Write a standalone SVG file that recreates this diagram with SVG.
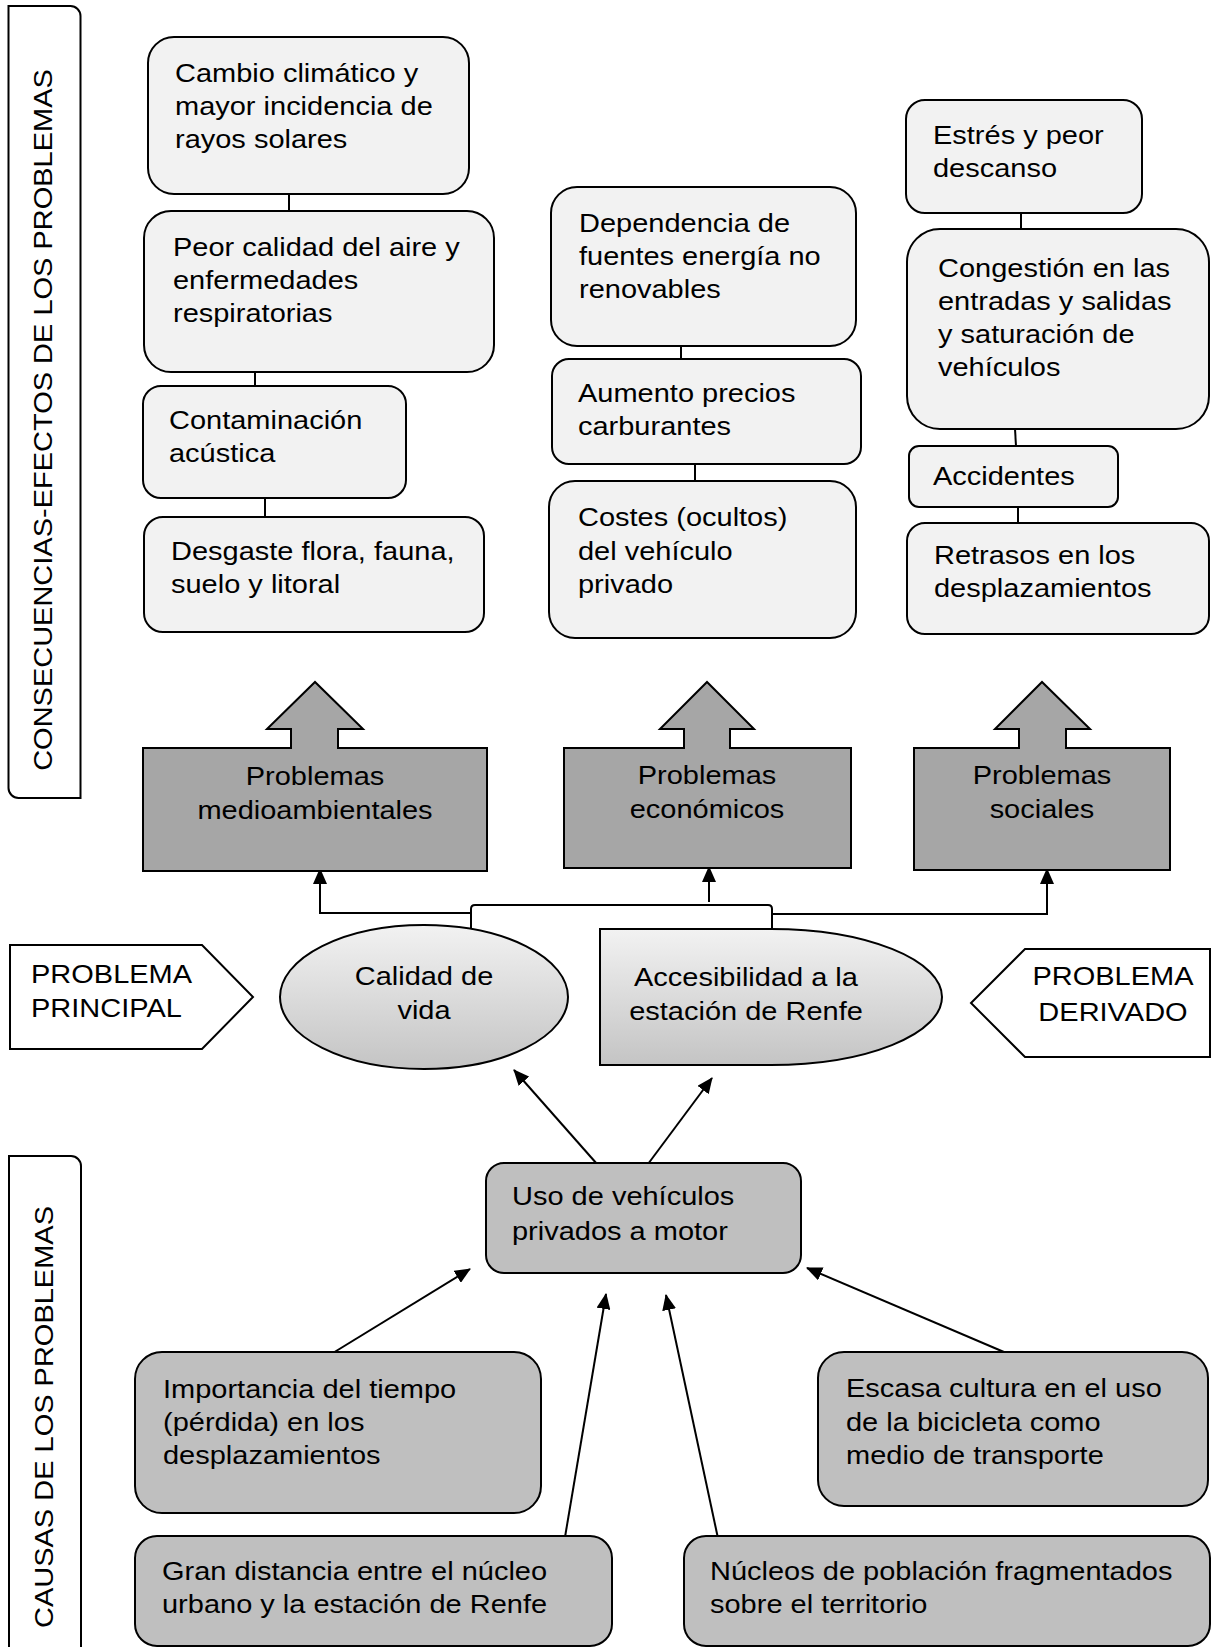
<svg xmlns="http://www.w3.org/2000/svg" width="1211" height="1647" viewBox="0 0 1211 1647">
<defs>
<style>
text{font-family:"Liberation Sans",Arial,sans-serif;font-size:26.7px;fill:#000;transform:scaleX(1.086);transform-box:fill-box;transform-origin:0 0}
.c{text-anchor:middle;transform-origin:50% 0}
.lt{fill:#f2f2f2;stroke:#000;stroke-width:2}
.dk{fill:#a6a6a6;stroke:#000;stroke-width:2}
.md{fill:#bfbfbf;stroke:#000;stroke-width:2}
.wh{fill:#fff;stroke:#000;stroke-width:2}
.gr{fill:url(#g);stroke:#000;stroke-width:2}
.ln{fill:none;stroke:#000;stroke-width:2}
.ar{fill:none;stroke:#000;stroke-width:2;marker-end:url(#ah)}
</style>
<linearGradient id="g" x1="0" y1="0" x2="0" y2="1">
<stop offset="0" stop-color="#f2f2f2"/>
<stop offset="1" stop-color="#c4c4c4"/>
</linearGradient>
<marker id="ah" viewBox="0 0 16 14" refX="15" refY="7" markerWidth="16" markerHeight="14" markerUnits="userSpaceOnUse" orient="auto">
<path d="M0,0 L16,7 L0,14 z" fill="#000"/>
</marker>
</defs>

<g id="label-consecuencias">
<path class="wh" d="M8.5,6 H70.5 A10,10 0 0 1 80.5,16 V798 H18.5 A10,10 0 0 1 8.5,788 Z"/>
<g transform="translate(52,420) rotate(-90)"><text class="c" x="0" y="0">CONSECUENCIAS-EFECTOS DE LOS PROBLEMAS</text></g>
</g>
<g id="label-causas">
<path class="wh" d="M9,1156 H71 A10,10 0 0 1 81,1166 V1660 H9 Z"/>
<g transform="translate(53,1417) rotate(-90)"><text class="c" x="0" y="0">CAUSAS DE LOS PROBLEMAS</text></g>
</g>

<g id="connectors">
<line class="ln" x1="289" y1="194" x2="289" y2="211"/>
<line class="ln" x1="255" y1="372" x2="255" y2="386"/>
<line class="ln" x1="265" y1="498" x2="265" y2="517"/>
<line class="ln" x1="681" y1="346" x2="681" y2="359"/>
<line class="ln" x1="695" y1="464" x2="695" y2="481"/>
<line class="ln" x1="1021" y1="213" x2="1021" y2="229"/>
<line class="ln" x1="1015" y1="429" x2="1016" y2="446"/>
<line class="ln" x1="1018" y1="507" x2="1018" y2="523"/>
<path class="ln" d="M471,933 V909 Q471,905 475,905 H768 Q772,905 772,909 V933"/>
<path class="ar" d="M471,913 H320 V869"/>
<path class="ar" d="M709,902 V867"/>
<path class="ar" d="M772,914 H1047 V869"/>
<line class="ar" x1="597" y1="1164" x2="514" y2="1070"/>
<line class="ar" x1="648" y1="1164" x2="712" y2="1078"/>
<line class="ar" x1="328" y1="1356" x2="470" y2="1269"/>
<line class="ar" x1="564" y1="1543" x2="606" y2="1294"/>
<line class="ar" x1="719" y1="1543" x2="666" y2="1295"/>
<line class="ar" x1="1011" y1="1355" x2="807" y2="1268"/>
</g>

<g id="n-cambio">
<rect class="lt" x="148" y="37" width="321" height="157" rx="26"/>
<text x="175" y="82">Cambio climático y</text>
<text x="175" y="115">mayor incidencia de</text>
<text x="175" y="148">rayos solares</text>
</g>
<g id="n-peor">
<rect class="lt" x="144" y="211" width="350" height="161" rx="27"/>
<text x="173" y="256">Peor calidad del aire y</text>
<text x="173" y="289">enfermedades</text>
<text x="173" y="322">respiratorias</text>
</g>
<g id="n-contaminacion">
<rect class="lt" x="143" y="386" width="263" height="112" rx="18"/>
<text x="169" y="429">Contaminación</text>
<text x="169" y="462">acústica</text>
</g>
<g id="n-desgaste">
<rect class="lt" x="144" y="517" width="340" height="115" rx="19"/>
<text x="171" y="560">Desgaste flora, fauna,</text>
<text x="171" y="593">suelo y litoral</text>
</g>

<g id="n-dependencia">
<rect class="lt" x="551" y="187" width="305" height="159" rx="26"/>
<text x="579" y="232">Dependencia de</text>
<text x="579" y="265">fuentes energía no</text>
<text x="579" y="298">renovables</text>
</g>
<g id="n-aumento">
<rect class="lt" x="552" y="359" width="309" height="105" rx="17"/>
<text x="578" y="402">Aumento precios</text>
<text x="578" y="435">carburantes</text>
</g>
<g id="n-costes">
<rect class="lt" x="549" y="481" width="307" height="157" rx="26"/>
<text x="578" y="526">Costes (ocultos)</text>
<text x="578" y="560">del vehículo</text>
<text x="578" y="593">privado</text>
</g>

<g id="n-estres">
<rect class="lt" x="906" y="100" width="236" height="113" rx="19"/>
<text x="933" y="144">Estrés y peor</text>
<text x="933" y="177">descanso</text>
</g>
<g id="n-congestion">
<rect class="lt" x="907" y="229" width="302" height="200" rx="33"/>
<text x="938" y="277">Congestión en las</text>
<text x="938" y="310">entradas y salidas</text>
<text x="938" y="343">y saturación de</text>
<text x="938" y="376">vehículos</text>
</g>
<g id="n-accidentes">
<rect class="lt" x="909" y="446" width="209" height="61" rx="10"/>
<text x="933" y="485">Accidentes</text>
</g>
<g id="n-retrasos">
<rect class="lt" x="907" y="523" width="302" height="111" rx="18"/>
<text x="934" y="564">Retrasos en los</text>
<text x="934" y="597">desplazamientos</text>
</g>

<g id="n-medioambientales">
<path class="dk" d="M143,748 H291 V729 H267 L315,682 L363,729 H338 V748 H487 V871 H143 Z"/>
<text class="c" x="315" y="785">Problemas</text>
<text class="c" x="315" y="819">medioambientales</text>
</g>
<g id="n-economicos">
<path class="dk" d="M564,748 H684 V729 H660 L707,682 L754,729 H730 V748 H851 V868 H564 Z"/>
<text class="c" x="707" y="784">Problemas</text>
<text class="c" x="707" y="818">económicos</text>
</g>
<g id="n-sociales">
<path class="dk" d="M914,748 H1019 V729 H995 L1042,682 L1090,729 H1066 V748 H1170 V870 H914 Z"/>
<text class="c" x="1042" y="784">Problemas</text>
<text class="c" x="1042" y="818">sociales</text>
</g>

<g id="n-principal">
<path class="wh" d="M10,945 H202 L253,997 L202,1049 H10 Z"/>
<text x="31" y="983">PROBLEMA</text>
<text x="31" y="1017">PRINCIPAL</text>
</g>
<g id="n-calidad">
<ellipse class="gr" cx="424" cy="997" rx="144" ry="72"/>
<text class="c" x="424" y="985">Calidad de</text>
<text class="c" x="424" y="1019">vida</text>
</g>
<g id="n-accesibilidad">
<path class="gr" d="M600,929 H771 A171,68 0 0 1 771,1065 H600 Z"/>
<text class="c" x="746" y="986">Accesibilidad a la</text>
<text class="c" x="746" y="1020">estación de Renfe</text>
</g>
<g id="n-derivado">
<path class="wh" d="M1210,949 H1025 L971,1003 L1025,1057 H1210 Z"/>
<text class="c" x="1113" y="985">PROBLEMA</text>
<text class="c" x="1113" y="1021">DERIVADO</text>
</g>

<g id="n-uso">
<rect class="md" x="486" y="1163" width="315" height="110" rx="18"/>
<text x="512" y="1205">Uso de vehículos</text>
<text x="512" y="1240">privados a motor</text>
</g>
<g id="n-importancia">
<rect class="md" x="135" y="1352" width="406" height="161" rx="27"/>
<text x="163" y="1398">Importancia del tiempo</text>
<text x="163" y="1431">(pérdida) en los</text>
<text x="163" y="1464">desplazamientos</text>
</g>
<g id="n-escasa">
<rect class="md" x="818" y="1352" width="390" height="154" rx="26"/>
<text x="846" y="1397">Escasa cultura en el uso</text>
<text x="846" y="1431">de la bicicleta como</text>
<text x="846" y="1464">medio de transporte</text>
</g>
<g id="n-gran">
<rect class="md" x="135" y="1536" width="477" height="110" rx="22"/>
<text x="162" y="1580">Gran distancia entre el núcleo</text>
<text x="162" y="1613">urbano y la estación de Renfe</text>
</g>
<g id="n-nucleos">
<rect class="md" x="684" y="1536" width="526" height="110" rx="22"/>
<text x="710" y="1580">Núcleos de población fragmentados</text>
<text x="710" y="1613">sobre el territorio</text>
</g>
</svg>
